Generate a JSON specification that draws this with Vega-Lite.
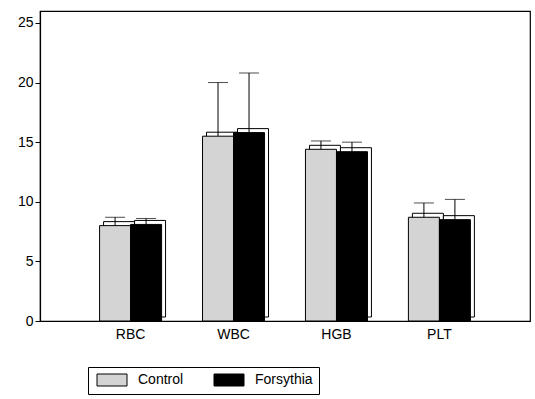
{
  "$schema": "https://vega.github.io/schema/vega-lite/v6.json",
  "autosize": {"type": "none"},
  "padding": {"left": 40, "top": 11, "right": 5, "bottom": 78},
  "width": 490,
  "height": 310,
  "background": "white",
  "config": {
    "font": "Liberation Sans",
    "view": {"stroke": "black", "strokeWidth": 1.2},
    "axis": {"labelFont": "Liberation Sans", "labelFontSize": 14, "labelColor": "black", "domainColor": "black", "tickColor": "black", "grid": false, "title": null}
  },
  "data": {
    "values": [
      {"param": "RBC", "group": "Control", "value": 8.0, "upper": 8.7},
      {"param": "RBC", "group": "Forsythia", "value": 8.1, "upper": 8.6},
      {"param": "WBC", "group": "Control", "value": 15.5, "upper": 20.0},
      {"param": "WBC", "group": "Forsythia", "value": 15.8, "upper": 20.8},
      {"param": "HGB", "group": "Control", "value": 14.4, "upper": 15.1},
      {"param": "HGB", "group": "Forsythia", "value": 14.2, "upper": 15.0},
      {"param": "PLT", "group": "Control", "value": 8.7, "upper": 9.9},
      {"param": "PLT", "group": "Forsythia", "value": 8.5, "upper": 10.2}
    ]
  },
  "encoding": {
    "x": {"field": "param", "type": "nominal", "sort": ["RBC", "WBC", "HGB", "PLT"],
      "scale": {"paddingInner": 0, "paddingOuter": 0.38},
      "axis": {"ticks": false, "labelAngle": 0, "labelPadding": 6, "domainWidth": 1.2}}
  },
  "resolve": {"scale": {"xOffset": "independent"}},
  "layer": [
    {
      "mark": {"type": "bar", "fill": "white", "stroke": "black", "strokeWidth": 1, "yOffset": -4},
      "encoding": {
        "xOffset": {"field": "group", "type": "nominal", "sort": ["Control", "Forsythia"],
          "scale": {"paddingInner": 0, "paddingOuter": 0.66, "range": [4, 106.9]}},
        "y": {"field": "value", "type": "quantitative",
          "scale": {"domain": [0, 25]},
          "axis": {"values": [0, 5, 10, 15, 20, 25], "tickSize": 5, "labelPadding": 2, "domainWidth": 1.2}}
      }
    },
    {
      "encoding": {
        "xOffset": {"field": "group", "type": "nominal", "sort": ["Control", "Forsythia"],
          "scale": {"paddingInner": 0, "paddingOuter": 0.66}}
      },
      "layer": [
        {
          "mark": {"type": "bar", "stroke": "black", "strokeWidth": 1},
          "encoding": {
            "y": {"field": "value", "type": "quantitative"},
            "color": {"field": "group", "type": "nominal",
              "scale": {"domain": ["Control", "Forsythia"], "range": ["#d4d4d4", "black"]},
              "legend": {
                "title": null, "orient": "none", "legendX": 48, "legendY": 356,
                "direction": "horizontal",
                "symbolType": "M-2.5,-1H2.5V1H-2.5Z",
                "symbolSize": 144, "symbolOffset": 11, "symbolStrokeColor": "black", "symbolStrokeWidth": 1,
                "labelFontSize": 14, "labelFont": "Liberation Sans", "labelColor": "black",
                "labelOffset": 19, "columnPadding": 27,
                "padding": 6, "strokeColor": "black", "fillColor": "white"
              }
            }
          }
        },
        {
          "mark": {"type": "rule", "color": "black", "strokeWidth": 1},
          "encoding": {
            "y": {"field": "value", "type": "quantitative"},
            "y2": {"field": "upper"}
          }
        },
        {
          "mark": {"type": "tick", "color": "black", "orient": "horizontal", "size": 20, "thickness": 1},
          "encoding": {
            "y": {"field": "upper", "type": "quantitative"}
          }
        }
      ]
    }
  ]
}
